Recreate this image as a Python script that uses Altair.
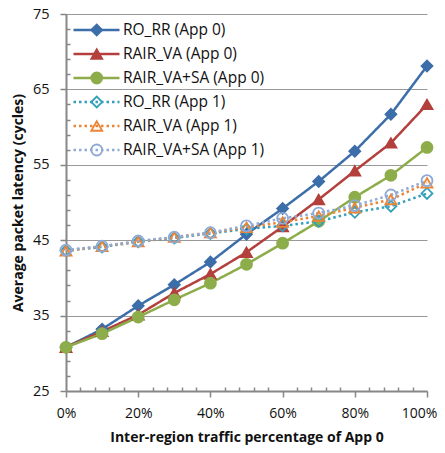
import altair as alt
import pandas as pd

# ---- data ----
x_pct = [0, 10, 20, 30, 40, 50, 60, 70, 80, 90, 100]
series_names = ["RO_RR (App 0)", "RAIR_VA (App 0)", "RAIR_VA+SA (App 0)",
                "RO_RR (App 1)", "RAIR_VA (App 1)", "RAIR_VA+SA (App 1)"]
ro_rr_0 = [30.8, 33.2, 36.3, 39.1, 42.1, 45.8, 49.2, 52.8, 56.8, 61.7, 68.1]
rair_va_0 = [30.8, 32.9, 35.1, 38.0, 40.5, 43.4, 46.8, 50.4, 54.2, 57.9, 63.0]
rair_vasa_0 = [30.8, 32.6, 34.8, 37.1, 39.3, 41.8, 44.6, 47.5, 50.7, 53.6, 57.3]
ro_rr_1 = [43.6, 44.1, 44.8, 45.3, 45.9, 46.5, 46.9, 47.5, 48.7, 49.5, 51.2]
rair_va_1 = [43.6, 44.2, 44.8, 45.4, 46.0, 46.7, 47.4, 48.2, 49.3, 50.4, 52.6]
rair_vasa_1 = [43.7, 44.2, 44.9, 45.4, 46.0, 46.9, 47.9, 48.6, 49.6, 51.0, 52.9]

y_major = [25, 35, 45, 55, 65, 75]
y_minor = [v for v in range(25, 76) if (v - 25) % 2 == 0 and v not in y_major]
x_major = [0, 20, 40, 60, 80, 100]
x_minor = [v for v in range(0, 101, 4) if v not in x_major]

colors = ["#3C6EA9", "#B3403C", "#8DAD4B", "#33A0BB", "#EA8537", "#8FAAD6"]
fills = ["#3C6EA9", "#B3403C", "#8DAD4B", "transparent", "transparent", "transparent"]
shapes = ["diamond", "triangle-up", "circle", "diamond", "triangle-up", "circle"]
dashes = [[1, 0], [1, 0], [1, 0], [2.5, 3], [2.5, 3], [2.5, 3]]

all_series = [ro_rr_0, rair_va_0, rair_vasa_0, ro_rr_1, rair_va_1, rair_vasa_1]
rows = []
for name, vals in zip(series_names, all_series):
    for xv, yv in zip(x_pct, vals):
        rows.append({"x": xv, "latency": yv, "series": name})
df = pd.DataFrame(rows)

W, H = 361, 377
FONT = "Open Sans"
GRAY = "#878787"

xscale = alt.Scale(domain=[0, 100], nice=False)
yscale = alt.Scale(domain=[25, 75], nice=False, zero=False)

line_legend = alt.Legend(
    title=None, orient="none", legendX=6, legendY=4, symbolType="stroke",
    symbolSize=2116, symbolStrokeWidth=2.5, clipHeight=24, rowPadding=0,
    labelFontSize=15.5, labelFont=FONT, labelColor="#111", labelOffset=2,
    padding=0)
point_legend = alt.Legend(
    title=None, orient="none", legendX=23, legendY=4,
    symbolSize=120, symbolStrokeWidth=1.8, clipHeight=24, rowPadding=0,
    labelExpr="''", labelFontSize=15.5, labelFont=FONT, padding=0)

lines = alt.Chart(df).mark_line(strokeWidth=2.5, strokeCap="butt").encode(
    x=alt.X("x:Q", scale=xscale, axis=alt.Axis(
        values=x_major, labelExpr="datum.value + '%'", grid=False, labelFlush=False,
        labelFontSize=14,
        labelOffset={"condition": {"test": "datum.value == 100", "value": -8}, "value": 0},
        title="Inter-region traffic percentage of App 0",
        tickSize=6, labelPadding=9, titlePadding=10)),
    y=alt.Y("latency:Q", scale=yscale, axis=alt.Axis(
        values=y_major, grid=True, title="Average packet latency (cycles)",
        tickSize=6, labelPadding=11, titlePadding=7)),
    stroke=alt.Stroke("series:N", scale=alt.Scale(domain=series_names, range=colors),
                      legend=line_legend),
    strokeDash=alt.StrokeDash("series:N", scale=alt.Scale(domain=series_names, range=dashes),
                              legend=line_legend),
)

points = alt.Chart(df).mark_point(size=120, strokeWidth=1.8, opacity=1).encode(
    x=alt.X("x:Q", scale=xscale, axis=alt.Axis(
        values=x_minor, orient="top", offset=-H, labels=False, title=None,
        domain=False, grid=False, tickSize=4)),
    y=alt.Y("latency:Q", scale=yscale, axis=alt.Axis(
        values=y_minor, orient="right", offset=-W, labels=False, title=None,
        domain=False, grid=False, tickSize=4)),
    stroke=alt.Stroke("series:N", scale=alt.Scale(domain=series_names, range=colors),
                      legend=point_legend),
    fill=alt.Fill("series:N", scale=alt.Scale(domain=series_names, range=fills),
                  legend=point_legend),
    shape=alt.Shape("series:N", scale=alt.Scale(domain=series_names, range=shapes),
                    legend=point_legend),
)

chart = alt.layer(lines, points).resolve_axis(
    x="independent", y="independent"
).resolve_legend(
    stroke="independent", strokeDash="independent", fill="independent", shape="independent"
).properties(
    width=W, height=H, autosize="none",
    padding={"left": 58, "top": 6, "right": 10, "bottom": 54},
).configure_view(stroke=None).configure_axis(
    labelFont=FONT, labelFontSize=14.5, labelColor="#111",
    titleFont=FONT, titleFontSize=14, titleFontWeight="bold", titleColor="#111",
    domainColor=GRAY, domainWidth=2, tickColor=GRAY, tickWidth=1.5,
    gridColor="#999999", gridWidth=1.2,
)

chart.save("out.html", embed_options={"renderer": "svg", "actions": False})
